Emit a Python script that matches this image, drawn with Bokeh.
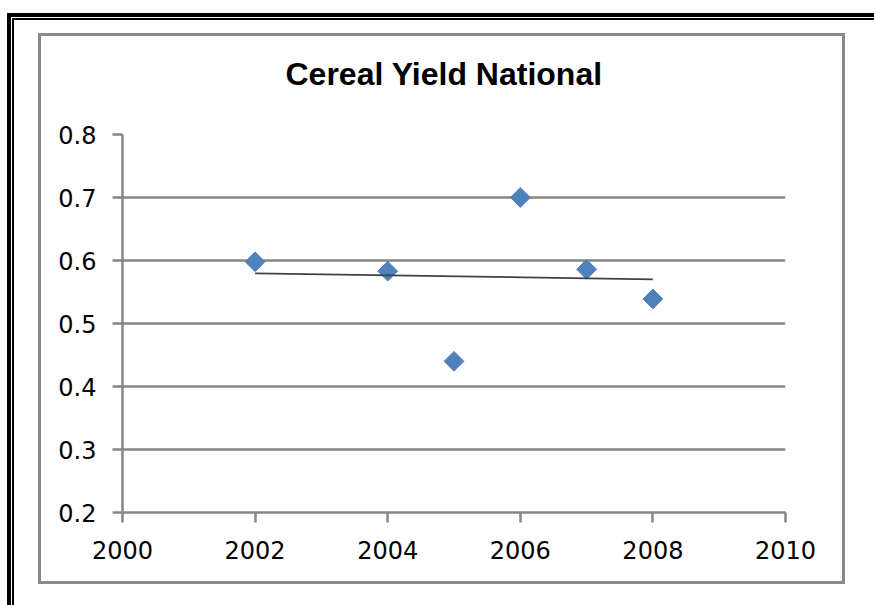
import numpy as np
from bokeh.plotting import figure
from bokeh.models import FixedTicker, Range1d
from bokeh.embed import file_html
from bokeh.resources import INLINE

title_text = "Cereal Yield National"
years = [2002, 2004, 2005, 2006, 2007, 2008]
yield_vals = [0.598, 0.583, 0.44, 0.70, 0.586, 0.539]
x_ticks = [2000, 2002, 2004, 2006, 2008, 2010]
y_ticks = [0.2, 0.3, 0.4, 0.5, 0.6, 0.7, 0.8]

W, H = 874, 605
FL, FR, FT, FB = 122, 784.5, 134.3, 512

p = figure(width=W, height=H, output_backend="svg", toolbar_location=None,
           x_range=Range1d(x_ticks[0], x_ticks[-1]), y_range=Range1d(y_ticks[0], y_ticks[-1]),
           min_border_left=FL, min_border_right=int(W - FR), min_border_top=int(FT),
           min_border_bottom=int(H - FB))
p.outline_line_color = None
p.background_fill_color = "white"
p.border_fill_color = None

# chart-area decorations (double black frame, grey chart border) as CSS background rectangles
rects = [
    ("#000000", 7, 13, 867, 4),
    ("#000000", 7, 13, 4, 592),
    ("#000000", 12, 18, 862, 2),
    ("#000000", 12, 18, 2, 587),
    ("#898989", 38, 33, 807, 3),
    ("#898989", 38, 581, 807, 3),
    ("#898989", 38, 33, 3, 551),
    ("#898989", 842, 33, 3, 551),
]
p.styles = {
    "background-image": ", ".join(f"linear-gradient({c}, {c})" for c, *_ in rects),
    "background-position": ", ".join(f"{x}px {y}px" for _, x, y, w, h in rects),
    "background-size": ", ".join(f"{w}px {h}px" for _, x, y, w, h in rects),
    "background-repeat": "no-repeat",
    "background-color": "#ffffff",
}

gray = "#868686"
p.xgrid.grid_line_color = None
p.ygrid.grid_line_color = gray
p.ygrid.grid_line_width = 2.5
p.ygrid.ticker = FixedTicker(ticks=y_ticks)

for ax in (p.xaxis[0], p.yaxis[0]):
    ax.axis_line_color = gray
    ax.axis_line_width = 2.5
    ax.major_tick_line_color = gray
    ax.major_tick_line_width = 2.5
    ax.major_tick_in = 0
    ax.major_tick_out = 10
    ax.minor_tick_line_color = None
    ax.major_label_text_font = "DejaVu Sans"
    ax.major_label_text_font_size = "24px"
    ax.major_label_text_color = "#000000"

p.xaxis.ticker = FixedTicker(ticks=x_ticks)
p.yaxis.ticker = FixedTicker(ticks=y_ticks)
p.xaxis.major_label_standoff = 18
p.yaxis.major_label_standoff = 16

p.scatter(years, yield_vals, marker="square", size=14, angle=np.pi / 4,
          fill_color="#4F81BD", line_color="#4F81BD")

slope, intercept = np.polyfit(years, yield_vals, 1)
tx = [years[0], years[-1]]
p.line(tx, [slope * t + intercept for t in tx], line_color="#404040", line_width=1.7)

p.title.text = title_text
p.title.align = "left"
p.title.text_font = "Liberation Sans"
p.title.text_font_style = "bold"
p.title.text_font_size = "32px"
p.title.text_color = "#000000"
p.title.standoff = 86
p.title.offset = 163

open("out.html", "w").write(file_html(p, INLINE))
